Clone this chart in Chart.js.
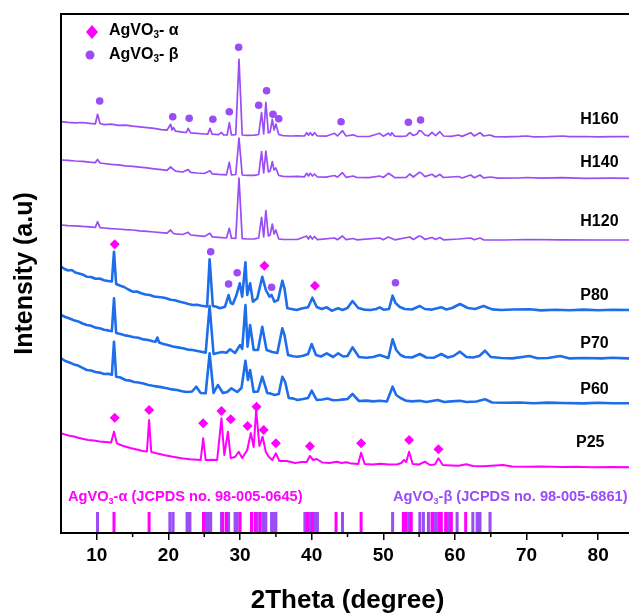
<!DOCTYPE html>
<html lang="en">
<head>
  <meta charset="UTF-8">
  <title>AgVO3 XRD patterns</title>
  <script src="https://cdn.jsdelivr.net/npm/chart.js@4.4.3/dist/chart.umd.min.js"></script>
  <style>
    html, body { margin: 0; padding: 0; background: #fff; overflow: hidden; }
    #wrap { width: 640px; height: 616px; }
  </style>
</head>
<body>
  <div id="wrap"><canvas id="xrd" width="640" height="616"></canvas></div>
  <script>
    // 2theta (deg), stacked intensity (a.u.)
    const h160 = [[5,411.3],[6,410.6],[7,410.2],[8,410.5],[9,409.6],[9.8,409.2],[10.1,418.7],[10.45,409.5],[11,408.4],[12,408.8],[13,407.6],[14,407.9],[15,406.8],[16,406.2],[17,405.4],[18,404.6],[19,403.3],[19.8,402.8],[20.3,408.7],[20.5,403],[20.7,405.5],[21,401.8],[22,400.8],[22.5,400.5],[22.75,404.7],[23.1,400.2],[24,399.6],[25,399],[25.5,398.9],[25.8,404.7],[26.1,398.8],[27,398.3],[27.4,400.5],[27.7,398.2],[28.2,398],[28.5,410.3],[28.8,398],[29.4,398.4],[29.85,473.7],[30.3,398],[31,397.6],[32,397.8],[32.6,398.5],[33.0,420.3],[33.3,399],[33.6,430.7],[33.95,400],[34.2,401],[34.5,413.7],[34.75,403],[35.0,409],[35.4,398.5],[36,397.4],[37,397],[38,397.2],[39,397],[39.3,400.3],[39.55,397.8],[39.8,400.3],[40.1,397.6],[40.4,400.3],[40.8,397],[42,396.8],[43.2,399.7],[43.6,397],[44.3,402.3],[44.8,397],[45.8,398.2],[46.3,396.7],[48,396.5],[49.5,399.7],[50,396.8],[50.7,399.8],[51,397.5],[51.2,400.3],[51.6,396.8],[52.5,396.6],[53.2,397],[53.7,400.3],[54.2,397.5],[54.7,399],[55.0,402.3],[55.3,402],[55.8,398],[56.3,397.2],[56.8,400.7],[57.3,397.4],[57.9,401.3],[58.4,397],[59.5,396.6],[60.5,398],[61,396.6],[62.2,400.3],[62.7,397],[63.5,400.3],[64,397],[64.9,398],[65.5,396.4],[67,396.2],[69,396.6],[70,397],[71,396.2],[73,396.4],[75,397],[76,396.3],[78,396.5],[80,396.2],[82,396.4],[85,396.3]];
    const h140 = [[5,373],[6,372.6],[7,372],[8,371.6],[9,370.8],[9.8,370.4],[10.1,373.5],[10.45,370],[11,369.5],[12,368.7],[13,368.2],[14,367.2],[15,366.6],[16,365.8],[17,365.2],[18,364.2],[19,363.3],[19.8,362.7],[20.3,366],[20.7,363.5],[21,361.9],[22,361],[22.75,363.5],[23.1,360.6],[24,360],[25,359.5],[25.8,362.2],[26.1,359.2],[27,358.6],[28.1,358.2],[28.5,370.7],[28.8,358.2],[29.4,358.5],[29.85,395],[30.3,358],[31,357.6],[32,357.7],[32.6,358.5],[33.0,381.3],[33.3,360],[33.6,382],[33.95,361],[34.2,362],[34.5,371.3],[34.75,363],[35.0,365],[35.4,357.5],[36,356.7],[37,356.4],[38,356.6],[39,356.2],[39.3,359.7],[39.55,357],[39.8,359.7],[40.1,357],[40.4,359],[40.8,356],[42,355.8],[43.2,357.5],[43.6,355.8],[44.3,360.3],[44.8,355.7],[45.8,357],[46.3,355.5],[48,355.3],[49.5,357],[50,355.5],[50.7,359.7],[51.2,357.5],[51.6,355.4],[53.2,355.6],[53.7,359],[54.2,356],[55.0,360.7],[55.3,360],[55.8,356.4],[56.8,358.7],[57.3,356],[57.9,358.7],[58.4,355.5],[60.5,356.5],[61,355],[62.2,358],[62.7,355.3],[63.5,358],[64,355.2],[65,356],[66,354.8],[69,355],[70,355.5],[72,354.8],[75,355.3],[78,354.7],[82,354.9],[85,354.7]];
    const h120 = [[5,308],[6,307.4],[7,307.2],[8,306.6],[9,306.2],[9.8,305.6],[10.1,311.3],[10.45,305.3],[11,305],[12,304.4],[13,304],[14,303.4],[15,303],[16,302.2],[17,301.6],[18,301],[19,300.4],[19.8,299.8],[20.3,303],[20.7,299.5],[21,299.2],[22,298.5],[22.75,300.7],[23.1,298],[24,297.3],[25,296.6],[25.8,299.7],[26.1,296.2],[27,295.6],[28.1,295],[28.5,304.7],[28.8,294.8],[29.4,294.6],[29.85,355],[30.3,294.4],[31,294],[32,294.2],[32.6,295],[33.0,315.7],[33.3,296],[33.6,322.3],[33.95,297],[34.2,298],[34.5,309],[34.75,299],[35.0,303],[35.4,294],[36,293.6],[38,293.5],[39.3,297],[39.55,294],[39.8,297],[40.1,294],[40.4,296.5],[40.8,293.4],[43.2,295],[43.6,293.3],[44.3,297],[44.8,293.3],[45.8,294.5],[46.3,293.2],[49.5,295],[50,293.3],[50.7,296],[51.2,294.5],[51.6,293.2],[53.7,296],[54.2,293.5],[55.0,297],[55.3,296.5],[55.8,293.6],[56.8,295.5],[57.3,293.5],[57.9,295.5],[58.4,293.2],[60.5,294],[62.2,295],[62.7,293.2],[63.5,295],[64,293.2],[67,293],[70,293.5],[75,293.2],[80,293],[85,293]];
    const p80 = [[5,266.3],[5.5,264],[6,262.5],[6.5,263],[7,260.5],[7.5,259.5],[8,258.5],[8.6,256.3],[9.2,256],[9.8,254.2],[10.4,254.5],[11,252.8],[11.6,252],[12.1,251.5],[12.4,281.3],[12.7,249],[13.2,247.5],[13.8,246],[14.4,243.5],[15,241.3],[15.6,241.5],[16.2,239.8],[16.8,238.5],[17.4,238],[18,236.5],[18.6,236],[19.2,235.5],[19.7,234.7],[20.3,233.2],[20.9,232.8],[21.6,231.3],[22.2,230.3],[22.8,229],[23.4,228],[24,228.2],[24.6,227.3],[25.4,226.5],[25.75,273.7],[26.2,227],[26.7,226.2],[27.2,224.7],[27.9,226.3],[28.4,238],[28.7,230],[29.0,229],[29.5,238],[29.96,249.7],[30.3,236.3],[30.75,270.7],[31.0,238],[31.4,249.7],[31.8,231.3],[32.4,234.7],[33.1,256.3],[33.6,243],[34.1,236.3],[34.4,238],[34.8,231.3],[35.3,233],[35.9,252.3],[36.2,244.7],[36.6,224.7],[37.2,224],[37.9,223],[38.6,224.5],[39.5,225.7],[40.1,235.3],[40.7,226],[41.4,224],[42.1,225.7],[42.8,222.3],[43.7,224.7],[44.3,223],[45.0,225],[45.7,232],[46.5,225],[47.3,223.4],[48.2,223],[49.0,224],[49.5,225.7],[50.1,223.2],[50.8,224],[51.3,237.3],[51.7,230],[52.3,226],[53.0,224],[54,223.5],[55.1,227],[55.8,224],[56.8,223.4],[58.1,225.7],[58.8,223.5],[59.6,225],[60.7,229],[61.8,225],[62.8,224],[64.0,227],[65.2,223.6],[66.5,223],[68,223.5],[70.5,223.7],[72,222.6],[74,223.2],[76,222.8],[78,223.4],[80,222.8],[82,223.2],[85,223]];
    const p70 = [[5,218],[5.6,216],[6.2,214.5],[6.8,212.8],[7.4,211.6],[8,209.5],[8.6,208],[9.2,207.2],[9.8,205.4],[10.4,204.8],[11,203.2],[11.6,202.6],[12.1,201.8],[12.4,234.7],[12.7,200],[13.3,199],[14,197.6],[14.6,196.8],[15.2,195.8],[15.8,195.2],[16.5,193.6],[17.2,193],[17.8,191.8],[18.2,191.2],[18.45,195.5],[18.7,190.5],[19.3,189],[19.9,188],[20.6,186.5],[21.3,185.6],[22,184.8],[22.7,183.4],[23.4,183],[24.2,181.8],[25.2,180.4],[25.75,227],[26.3,179],[27.0,180.2],[27.5,181],[28.1,180.2],[28.6,183.7],[29.3,180],[30.0,188],[30.3,184],[30.75,228],[31.05,186.3],[31.4,208],[31.9,183],[32.5,183],[33.1,206.3],[33.7,183],[34.5,181],[35.2,180],[35.9,204.7],[36.2,198],[36.7,178],[37.4,176.8],[38,176.3],[38.8,177.2],[39.5,179],[40.0,189],[40.6,178],[41.3,176.5],[42.1,179.7],[43,176],[43.7,179.7],[44.4,176.5],[45.0,177],[45.7,185.7],[46.6,176],[47.6,175.2],[48.6,176],[49.5,178],[50.7,175],[51.3,193.7],[51.8,183],[52.4,178],[53,176],[54,175.5],[55.1,179],[56,175.5],[57,175.2],[58.1,179],[59,175.5],[59.8,177],[60.7,181.3],[61.6,176],[62.5,175.5],[63.4,177],[64.2,182.3],[65,176],[66.5,175],[68,174.6],[70.4,177],[71.5,174.8],[73,175],[74.7,177],[76,174.6],[78,175],[80.5,174.6],[82,175.2],[84,174.6],[85,174.7]];
    const p60 = [[5,174.7],[5.6,172],[6.2,170.5],[6.8,168.6],[7.4,167.4],[8,165.2],[8.6,163],[9.2,162.5],[9.8,161],[10.4,160.4],[11,159],[11.6,159.3],[12.1,158.2],[12.4,191.3],[12.7,156.3],[13.3,155.5],[14,153],[14.6,152.4],[15.2,151],[15.8,150.5],[16.5,149.4],[17.2,148],[17.8,147.2],[18.5,146.4],[19.2,145.6],[19.8,144.7],[20.5,143.6],[21.2,143],[21.9,141.8],[22.5,141],[23.3,141.5],[23.9,146.3],[24.5,140],[25.2,139.7],[25.75,179.7],[26.3,140],[26.9,148],[27.6,140],[28.2,141],[28.8,144.7],[29.6,141],[30.2,145],[30.75,172.3],[31.1,153],[31.4,163],[31.9,141],[32.5,141.5],[33.1,156.3],[33.8,140],[34.3,139.4],[34.8,138],[35.4,139],[35.9,156.3],[36.3,151],[36.8,135],[37.5,134.4],[38,133],[38.8,134],[39.5,135],[40.0,142.3],[40.7,133],[41.5,133.5],[42.2,134.5],[43,132.8],[43.7,133],[44.5,133.6],[45.0,134],[45.7,139],[46.6,132],[47.6,132.4],[48.6,131.6],[49.5,132.3],[50.5,131.5],[51.3,146.3],[51.8,138],[52.4,135],[53.2,132.2],[54,131.6],[55.1,132.3],[56,131],[57.6,133],[58.5,131],[59.5,131.6],[60.7,132.3],[61.6,131],[63,131.5],[64.2,133.7],[65.2,130.5],[67,130.2],[69,130.5],[71,129.8],[73,130.4],[75,130],[78,129.6],[80,130.2],[82,129.8],[85,129.7]];
    const p25 = [[5,99.7],[5.6,98.4],[6.2,97.2],[6.8,96.5],[7.4,95.2],[8,94.2],[8.8,93],[9.6,92.4],[10.4,91.5],[11.2,91],[12,90.5],[12.4,101.3],[12.8,89.7],[13.5,87.5],[14.2,86],[14.8,84.7],[15.6,83.4],[16.4,82],[17,81.5],[17.3,113],[17.6,81],[18.5,79.4],[19.5,77.8],[20.6,76.2],[21.8,74.7],[23,73.8],[24.5,73],[24.85,94.7],[25.2,73],[26,73.2],[26.8,73],[27.4,114.7],[27.8,78],[28.3,101.3],[28.7,75],[29.3,76],[29.8,81.3],[30.3,75],[31.0,83],[31.5,100],[31.9,86],[32.25,123],[32.7,87],[33.15,96.3],[33.6,81],[34.0,76.3],[34.5,73],[35.0,79.7],[35.5,72],[36.5,72],[37.7,70],[38.6,71],[39.3,71],[39.75,77],[40.2,73],[40.7,74],[41.5,70.5],[42.5,70],[43.5,71.3],[44.2,70],[44.8,70.8],[45.6,69.4],[46.5,69],[46.9,80.3],[47.4,69],[48.5,68.5],[49.6,69.2],[50.8,68.4],[52,68.8],[52.5,70],[52.9,73],[53.2,71],[53.6,81.3],[54.1,69],[55,68.5],[55.8,71.3],[56.5,68],[57.2,68.5],[57.7,74.7],[58.3,68],[59.5,67.6],[60.5,67.2],[61.6,68.7],[62.5,67],[64,66.8],[66.7,68],[68,66.5],[70,66.2],[72,66.4],[75,66],[77,66.2],[79,65.8],[82,66],[85,65.7]];

    // phase markers above the peaks
    const alphaMarks = [[12.5,288.7],[33.4,267.3],[40.45,247.3],[12.5,115.3],[17.3,123],[24.85,109.7],[27.4,122],[28.7,113.7],[31.05,107],[32.3,126.3],[33.3,103],[35.0,89.7],[39.75,86.7],[46.9,89.7],[53.6,93],[57.7,83.7]];
    const betaMarks = [[10.4,432],[20.6,416.3],[22.9,414.7],[26.2,413.7],[28.5,421.3],[29.8,485.7],[32.6,427.7],[33.7,442.3],[34.6,418.7],[35.4,414.3],[44.1,411.3],[53.5,410.7],[55.2,413],[25.9,281.3],[28.4,249],[29.6,260.3],[34.4,245.7],[51.7,250.3]];

    // reference patterns
    const alphaRef = [12.4,17.3,24.9,27.6,28.1,30.0,31.6,32.1,32.8,39.4,40.1,43.4,46.9,52.8,53.2,53.9,56.8,57.8,58.1,58.7,59.5,61.5];
    const betaRef = [10.1,20.2,20.65,22.6,23.0,25.2,25.5,25.9,27.4,28.4,29.3,29.6,32.4,33.2,33.6,34.4,34.7,35.0,39.05,39.7,40.4,40.8,44.3,51.3,53.6,55.1,55.6,56.3,57.1,57.4,59.1,60.3,62.5,63.1,63.5,64.9];

    const sampleNames = ['H160', 'H140', 'H120', 'P80', 'P70', 'P60', 'P25'];
    const majorTicks = [10, 20, 30, 40, 50, 60, 70, 80];
    const minorTicks = [15, 25, 35, 45, 55, 65, 75];

    const PURPLE = '#9a4cf5';
    const BLUE = '#1e6eeb';
    const MAGENTA = '#ff00ff';
    const FONT = '"Liberation Sans", Arial, Helvetica, sans-serif';

    // label anchors (2theta, intensity) and stick extent
    const labelAt = [[77.5,413],[77.5,370],[77.5,311.3],[77.5,237.3],[77.5,189.7],[77.5,143.7],[76.9,90.7]];
    const STICK_LO = 1, STICK_HI = 21;

    const toXY = arr => arr.map(([x, y]) => ({ x, y }));
    const trace = (label, pts, color, width) => ({
      type: 'line', label, data: toXY(pts), borderColor: color, borderWidth: width,
      pointRadius: 0, tension: 0, fill: false, order: 2, borderJoinStyle: 'round'
    });
    const sticks = (label, pos, color) => ({
      type: 'line', label, borderColor: color, borderWidth: 3, borderCapStyle: 'butt',
      pointRadius: 0, spanGaps: false, order: 1,
      data: pos.flatMap(p => [{ x: p, y: STICK_LO }, { x: p, y: STICK_HI }, { x: p, y: null }])
    });
    const marks = (label, pts, color, style, r) => ({
      type: 'scatter', label, data: toXY(pts), pointStyle: style, pointRadius: r,
      backgroundColor: color, borderColor: color, borderWidth: 0, order: 0
    });

    // draws sub-scripted formula text piece by piece
    function chemText(ctx, parts, x, y, size) {
      let cx = x;
      for (const [t, sub] of parts) {
        ctx.font = `bold ${sub ? Math.round(size * 0.62) : size}px ${FONT}`;
        ctx.fillText(t, cx, sub ? y + size * 0.28 : y);
        cx += ctx.measureText(t).width;
      }
    }

    const xrdDecor = {
      id: 'xrdDecor',
      afterDatasetsDraw(chart) {
        const { ctx, chartArea: a, scales: { x, y } } = chart;
        ctx.save();
        ctx.strokeStyle = '#000';
        ctx.lineWidth = 2;
        ctx.strokeRect(a.left, a.top, a.right - a.left, a.bottom - a.top);

        ctx.lineWidth = 1.5;
        for (const v of minorTicks) {
          const px = x.getPixelForValue(v);
          ctx.beginPath();
          ctx.moveTo(px, a.bottom);
          ctx.lineTo(px, a.bottom + 4);
          ctx.stroke();
        }

        ctx.textBaseline = 'middle';
        ctx.textAlign = 'left';
        ctx.fillStyle = '#000';
        ctx.font = `bold 16px ${FONT}`;
        sampleNames.forEach((n, i) => {
          ctx.fillText(n, x.getPixelForValue(labelAt[i][0]), y.getPixelForValue(labelAt[i][1]));
        });

        // legend
        ctx.fillStyle = MAGENTA;
        ctx.beginPath();
        ctx.moveTo(a.left + 25, a.top + 18);
        ctx.lineTo(a.left + 31, a.top + 11);
        ctx.lineTo(a.left + 37, a.top + 18);
        ctx.lineTo(a.left + 31, a.top + 25);
        ctx.closePath();
        ctx.fill();
        ctx.fillStyle = PURPLE;
        ctx.beginPath();
        ctx.arc(a.left + 29, a.top + 41, 4.5, 0, Math.PI * 2);
        ctx.fill();
        ctx.fillStyle = '#000';
        chemText(ctx, [['AgVO', false], ['3', true], ['- α', false]], a.left + 48, a.top + 17, 16);
        chemText(ctx, [['AgVO', false], ['3', true], ['- β', false]], a.left + 48, a.top + 41, 16);

        // reference pattern captions
        ctx.fillStyle = MAGENTA;
        chemText(ctx, [['AgVO', false], ['3', true], ['-α (JCPDS no. 98-005-0645)', false]], a.left + 7, a.bottom - 36, 14.6);
        ctx.fillStyle = PURPLE;
        chemText(ctx, [['AgVO', false], ['3', true], ['-β (JCPDS no. 98-005-6861)', false]], a.left + 332, a.bottom - 36, 14.6);
        ctx.restore();
      }
    };

    new Chart(document.getElementById('xrd'), {
      type: 'line',
      data: {
        datasets: [
          marks('AgVO3-α', alphaMarks, MAGENTA, 'rectRot', 5),
          marks('AgVO3-β', betaMarks, PURPLE, 'circle', 3.8),
          trace('H160', h160, PURPLE, 1.7),
          trace('H140', h140, PURPLE, 1.7),
          trace('H120', h120, PURPLE, 1.7),
          trace('P80', p80, BLUE, 2.6),
          trace('P70', p70, BLUE, 2.6),
          trace('P60', p60, BLUE, 2.6),
          trace('P25', p25, MAGENTA, 2),
          sticks('ref α', alphaRef, MAGENTA),
          sticks('ref β', betaRef, PURPLE)
        ]
      },
      options: {
        responsive: false,
        animation: false,
        devicePixelRatio: 1,
        layout: { padding: { top: 14, right: 6, left: 0, bottom: 0 } },
        plugins: { legend: { display: false }, tooltip: { enabled: false } },
        scales: {
          x: {
            type: 'linear', min: 5, max: 85,
            afterBuildTicks: s => { s.ticks = majorTicks.map(v => ({ value: v })); },
            afterFit: s => { s.height = 83; },
            ticks: { color: '#000', font: { family: FONT, size: 19, weight: 'bold' }, padding: 4, maxRotation: 0, autoSkip: false },
            grid: { drawOnChartArea: false, drawTicks: true, tickLength: 7, color: '#000', lineWidth: 1.5 },
            border: { display: false },
            title: { display: true, text: '2Theta (degree)', color: '#000', font: { family: FONT, size: 26, weight: 'bold' }, padding: { top: 0, bottom: 0 } }
          },
          y: {
            type: 'linear', min: 0, max: 519,
            afterFit: s => { s.width = 61; },
            ticks: { display: false },
            grid: { display: false },
            border: { display: false },
            title: { display: true, text: 'Intensity (a.u)', color: '#000', font: { family: FONT, size: 25, weight: 'bold' }, padding: { top: 10, bottom: 0 } }
          }
        }
      },
      plugins: [xrdDecor]
    });
  </script>
</body>
</html>
